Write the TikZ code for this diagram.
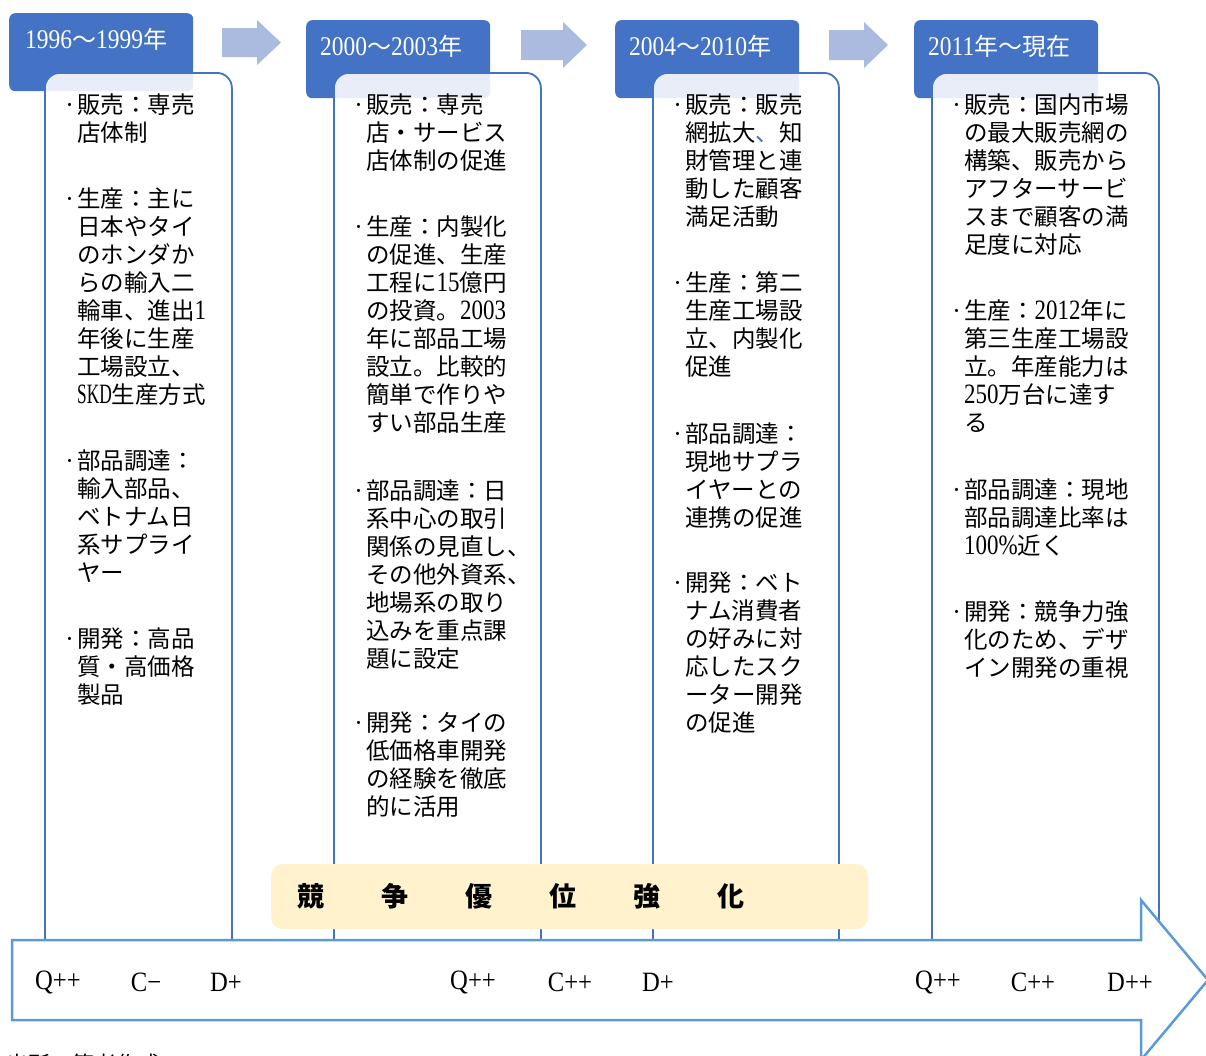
\documentclass[tikz,border=0pt]{standalone}
\usepackage{fontspec}
\usepackage{graphicx}
\setmainfont{Liberation Serif}
\newfontfamily\jp{Noto Sans CJK JP}
\newfontfamily\ltfont{Liberation Serif}
\definecolor{titleblue}{HTML}{4472C4}
\definecolor{arrowblue}{HTML}{5B9BD5}
\definecolor{lightarrow}{HTML}{ABBADF}
\definecolor{softyellow}{HTML}{FFF2CC}
% condensed Latin: [scale]{size}{text}
\newcommand\lt[3][0.82]{{\ltfont\fontsize{#2}{#2}\selectfont\scalebox{#1}[1]{#3}}}
\newcommand\bul{\llap{·\kern1pt}}
\newcommand\fst{\rule{0pt}{21pt}}
\begin{document}
\begin{tikzpicture}[x=1pt,y=-1pt,
  titlebox/.style={fill=titleblue, rounded corners=6pt, minimum width=184pt, minimum height=78pt, anchor=north west, inner sep=0pt},
  titletext/.style={text=white, anchor=west, inner sep=0pt, font=\jp\fontsize{24}{24}\selectfont},
  contentbox/.style={draw=titleblue, line width=1.8pt, fill=white, fill opacity=0.88, rounded corners=15pt, minimum height=928pt, anchor=north west, inner sep=0pt},
  bodytext/.style={inner sep=0pt, align=left, anchor=north west, font=\jp\fontsize{23.5}{28}\selectfont},
  blockarrow/.style={fill=lightarrow},
  bigarrow/.style={draw=arrowblue, line width=2.5pt, fill=white, line join=miter},
  advbox/.style={fill=softyellow, rounded corners=12pt, minimum width=597pt, minimum height=65pt, inner sep=0pt},
  advtext/.style={anchor=west, inner sep=0pt, font=\jp\bfseries\fontsize{27}{27}\selectfont},
  evaltext/.style={anchor=center, inner sep=0pt},
  srctext/.style={anchor=west, inner sep=0pt, font=\jp\fontsize{22}{22}\selectfont}
]
\useasboundingbox (0,0) rectangle (1206,1055);

% title boxes
\node[titlebox] (t1) at (9,13) {};
\node[titlebox] (t2) at (306,20) {};
\node[titlebox] (t3) at (615,20) {};
\node[titlebox] (t4) at (914,20) {};

\node[titletext] (t1l) at (25,39) {\lt[0.87]{27}{1996}〜\lt[0.87]{27}{1999}年};
\node[titletext] (t2l) at (320,46) {\lt[0.87]{27}{2000}〜\lt[0.87]{27}{2003}年};
\node[titletext] (t3l) at (629,46) {\lt[0.87]{27}{2004}〜\lt[0.87]{27}{2010}年};
\node[titletext] (t4l) at (928,46) {\lt[0.87]{27}{2011}年〜現在};

% block arrows between periods
\fill[blockarrow] (222,28) -- (257,28) -- (257,20) -- (281,42.5) -- (257,65) -- (257,57) -- (222,57) -- cycle;
\fill[blockarrow] (521,30) -- (563,30) -- (563,22) -- (587,45) -- (563,68) -- (563,60) -- (521,60) -- cycle;
\fill[blockarrow] (829,30) -- (864,30) -- (864,22) -- (888,45) -- (864,68) -- (864,60) -- (829,60) -- cycle;

% content boxes
\node[contentbox, minimum width=187pt] (c1) at (44,72) {};
\node[contentbox, minimum width=207pt] (c2) at (333,72) {};
\node[contentbox, minimum width=186pt] (c3) at (652,72) {};
\node[contentbox, minimum width=227pt] (c4) at (931,72) {};

% texts
\node[bodytext] (b1) at (77,92) {\fst\bul 販売：専売\\
店体制\\[38pt]
\bul 生産：主に\\
日本やタイ\\
のホンダか\\
らの輸入二\\
輪車、進出\lt{28}{1}\\
年後に生産\\
工場設立、\\
\lt[0.62]{28}{SKD}生産方式\\[38pt]
\bul 部品調達：\\
輸入部品、\\
ベトナム日\\
系サプライ\\
ヤー\\[38pt]
\bul 開発：高品\\
質・高価格\\
製品};

\node[bodytext] (b2) at (366,92) {\fst\bul 販売：専売\\
店・サービス\\
店体制の促進\\[38pt]
\bul 生産：内製化\\
の促進、生産\\
工程に\lt{28}{15}億円\\
の投資。\lt{28}{2003}\\
年に部品工場\\
設立。比較的\\
簡単で作りや\\
すい部品生産\\[40pt]
\bul 部品調達：日\\
系中心の取引\\
関係の見直し、\\
その他外資系、\\
地場系の取り\\
込みを重点課\\
題に設定\\[36pt]
\bul 開発：タイの\\
低価格車開発\\
の経験を徹底\\
的に活用};

\node[bodytext] (b3) at (685,92) {\fst\bul 販売：販売\\
網拡大{\color{titleblue}、}知\\
財管理と連\\
動した顧客\\
満足活動\\[38pt]
\bul 生産：第二\\
生産工場設\\
立、内製化\\
促進\\[39pt]
\bul 部品調達：\\
現地サプラ\\
イヤーとの\\
連携の促進\\[37pt]
\bul 開発：ベト\\
ナム消費者\\
の好みに対\\
応したスク\\
ーター開発\\
の促進};

\node[bodytext] (b4) at (964,92) {\fst\bul 販売：国内市場\\
の最大販売網の\\
構築、販売から\\
アフターサービ\\
スまで顧客の満\\
足度に対応\\[38pt]
\bul 生産：\lt{28}{2012}年に\\
第三生産工場設\\
立。年産能力は\\
\lt{28}{250}万台に達す\\
る\\[39pt]
\bul 部品調達：現地\\
部品調達比率は\\
\lt{28}{100\%}近く\\[38pt]
\bul 開発：競争力強\\
化のため、デザ\\
イン開発の重視};

% competitive advantage band
\node[advbox] (adv) at (569.5,896.5) {};
\node[advtext] (advl) at (297,896) {競\hspace{57pt}争\hspace{57pt}優\hspace{57pt}位\hspace{57pt}強\hspace{57pt}化};

% big timeline arrow
\draw[bigarrow] (12,940) -- (1141,940) -- (1141,900) -- (1208,980) -- (1141,1060) -- (1141,1020) -- (12,1020) -- cycle;

% evaluation labels
\node[evaltext] (e1) at (58,982) {\lt[0.88]{28}{Q++}};
\node[evaltext] (e2) at (146,982) {\lt[0.88]{28}{C−}};
\node[evaltext] (e3) at (226,982) {\lt[0.88]{28}{D+}};
\node[evaltext] (e4) at (473,982) {\lt[0.88]{28}{Q++}};
\node[evaltext] (e5) at (570,982) {\lt[0.88]{28}{C++}};
\node[evaltext] (e6) at (658,982) {\lt[0.88]{28}{D+}};
\node[evaltext] (e7) at (938,982) {\lt[0.88]{28}{Q++}};
\node[evaltext] (e8) at (1033,982) {\lt[0.88]{28}{C++}};
\node[evaltext] (e9) at (1130,982) {\lt[0.88]{28}{D++}};

% source (cut off at the page edge)
\node[srctext] (src) at (6,1064) {出所：筆者作成};
\end{tikzpicture}
\end{document}
